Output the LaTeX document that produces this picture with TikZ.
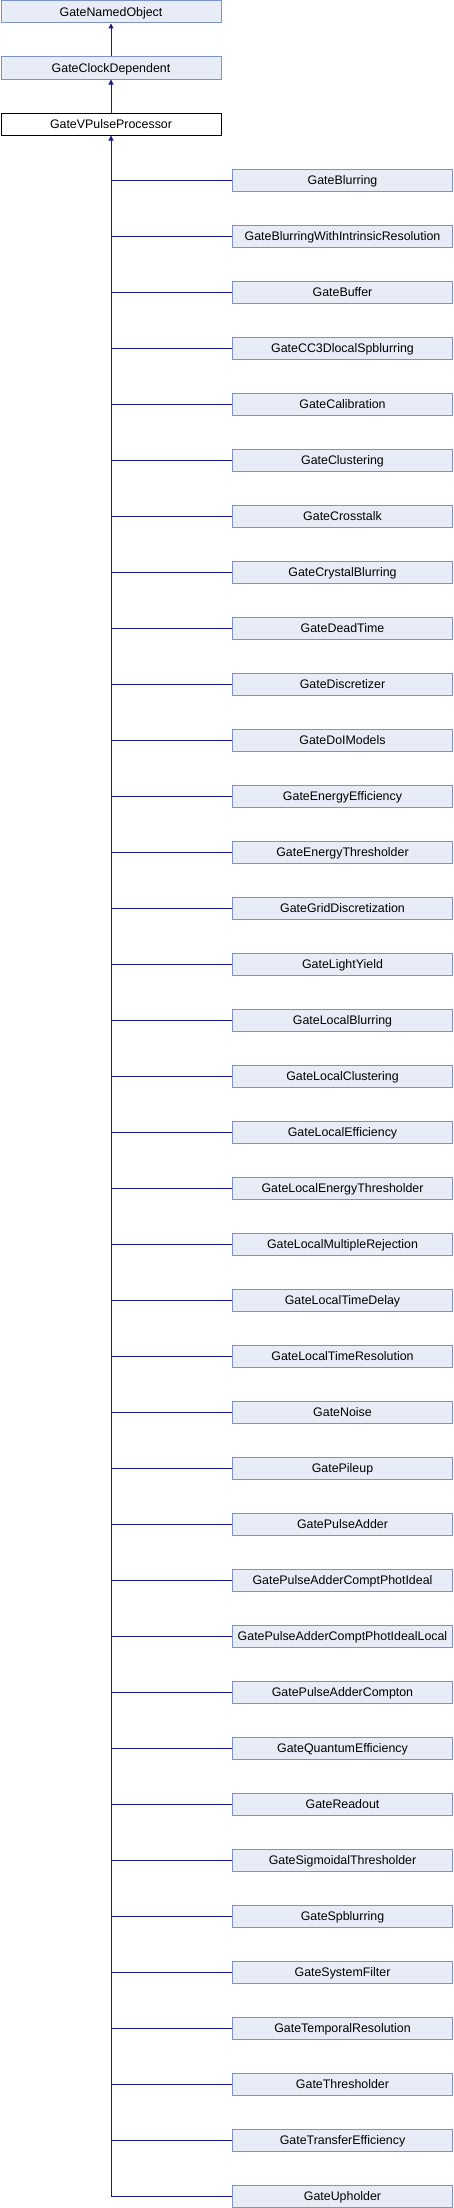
\documentclass[tikz,border=0pt]{standalone}
\usepackage{fontspec}
\setmainfont{Liberation Sans}
\usepackage{tikz}
\usetikzlibrary{arrows.meta}

\definecolor{boxfill}{RGB}{232,236,246}
\definecolor{boxline}{RGB}{124,146,200}
\definecolor{edgeblue}{RGB}{24,24,140}

\tikzset{
  classbox/.style={draw=boxline, fill=boxfill, line width=1pt, inner sep=0pt,
    minimum width=220pt, minimum height=22pt, text height=8.9pt, text depth=0pt,
    font=\fontsize{12.4}{14}\selectfont},
  basebox/.style={classbox, draw=black, fill=white},
  inherit/.style={draw=edgeblue, line width=1pt},
  isa/.style={inherit, -{Triangle[length=5pt,width=5pt]}}
}

\begin{document}
\begin{tikzpicture}[x=1pt,y=-1pt]
      \useasboundingbox (0,0) rectangle (454,2208);
      % parents
      \node[classbox] (named) at (111,12) {GateNamedObject};
      \node[classbox] (clock) at (111,68) {GateClockDependent};
      \node[basebox] (vpp) at (111,124) {GateVPulseProcessor};
      \draw[isa] (clock) -- (named);
      \draw[isa] (vpp) -- (clock);
      % derived processors
      \foreach \cls [count=\i from 0] in {GateBlurring,
          GateBlurringWithIntrinsicResolution, GateBuffer,
          GateCC3DlocalSpblurring, GateCalibration, GateClustering,
          GateCrosstalk, GateCrystalBlurring, GateDeadTime, GateDiscretizer,
          GateDoIModels, GateEnergyEfficiency, GateEnergyThresholder,
          GateGridDiscretization, GateLightYield, GateLocalBlurring,
          GateLocalClustering, GateLocalEfficiency,
          GateLocalEnergyThresholder, GateLocalMultipleRejection,
          GateLocalTimeDelay, GateLocalTimeResolution, GateNoise, GatePileup,
          GatePulseAdder, GatePulseAdderComptPhotIdeal,
          GatePulseAdderComptPhotIdealLocal, GatePulseAdderCompton,
          GateQuantumEfficiency, GateReadout, GateSigmoidalThresholder,
          GateSpblurring, GateSystemFilter, GateTemporalResolution,
          GateThresholder, GateTransferEfficiency, GateUpholder}
      {
        \node[classbox] (c\i) at (342.5,180+56*\i) {\cls};
        \draw[inherit] (vpp.south |- c\i.west) -- (c\i.west);
      }
      \draw[isa] (vpp.south |- c36.west) -- (vpp.south);
    \end{tikzpicture}
\end{document}
